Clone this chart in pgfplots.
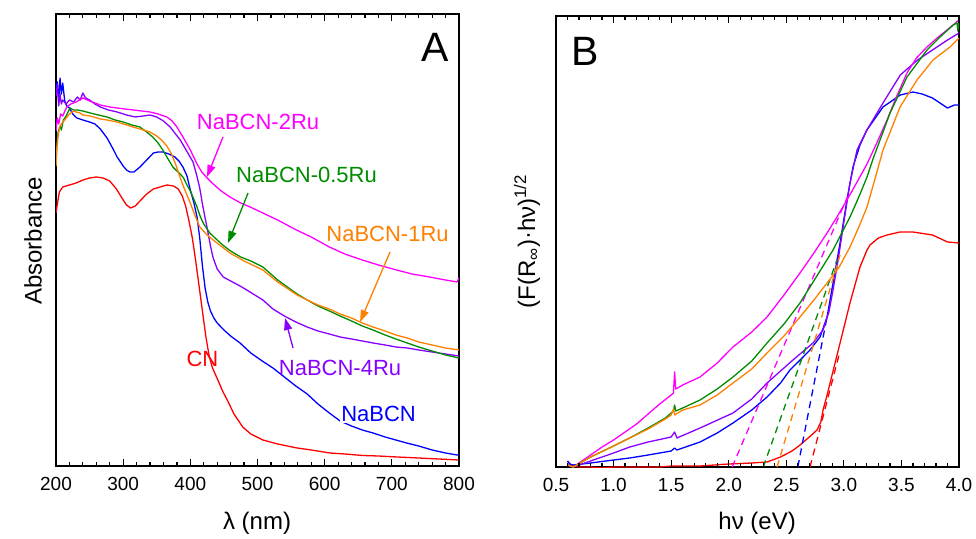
\documentclass[border=0pt]{standalone}
\usepackage{fontspec}
\setmainfont{Liberation Sans}
\usepackage{pgfplots}
\pgfplotsset{compat=1.18}
\usetikzlibrary{arrows.meta}
\definecolor{cRed}{RGB}{255,0,0}
\definecolor{cBlue}{RGB}{0,0,255}
\definecolor{cViolet}{RGB}{136,0,255}
\definecolor{cMag}{RGB}{255,0,255}
\definecolor{cGreen}{RGB}{0,140,0}
\definecolor{cOrange}{RGB}{255,128,0}
\tikzset{tk/.style={black, line width=1.2pt}}
\pgfplotsset{
  myaxis/.style={
    scale only axis, width=403pt,
    axis line style={line width=1.3pt},
    major tick style={line width=1.2pt, black},
    minor tick style={line width=1.2pt, black},
    major tick length=7pt, minor tick length=4.5pt,
    ytick=\empty,
    minor x tick num=4,
    ymin=0,
    /pgf/number format/assume math mode=true,
    tick label style={font=\fontsize{19}{22}\selectfont},
    xticklabel style={yshift=-8pt},
    label style={font=\fontsize{24}{28}\selectfont},
    every axis plot/.append style={line width=1.3pt, line join=round},
  },
  tang/.style={line width=1.3pt, dash pattern=on 7pt off 5pt},
}
\begin{document}
\begin{tikzpicture}
\useasboundingbox (0,0) rectangle (976pt,538pt);
%%%%%%%%%%%%%%%% Panel A
\begin{axis}[myaxis, at={(56pt,72pt)}, anchor=south west, height=452pt,
  xmin=200, xmax=800, ymax=452, xtick={200,300,...,800},
  xlabel={λ (nm)}, ylabel={Absorbance},
  xlabel style={at={(axis description cs:0.499,-0.126)}, anchor=center},
  ylabel style={at={(axis description cs:-0.057,0.498)}, anchor=center, rotate=0},
]
% CN
\addplot[cRed] coordinates {(200,253)(202,262)(205,274)(210,279)(220,281)(230,283)(240,286)(250,288)(260,289)(270,288)(280,285)(290,277)(300,266)(305,261)(311,258)(318,260)(325,265)(335,272)(345,277)(355,279)(365,281)(375,280)(382,277)(388,270)(393,260)(398,245)(403,228)(408,205)(413,180)(418,155)(423,130)(428,110)(433,98)(441,86)(448,75)(455,66)(465,52)(478,39)(490,32)(508,26)(530,22)(559,18)(580,16)(608,13)(630,12)(657,10.5)(680,10)(708,9)(740,8)(770,7)(800,6)};
% NaBCN
\addplot[cBlue] coordinates {(200,376)(202,384)(204,365)(206,388)(208,372)(210,383)(213,365)(216,360)(220,358)(225,352)(231,348)(240,346)(250,344)(258,342)(266,337)(276,328)(285,317)(291,309)(300,300)(305,296)(310,294)(316,294)(325,299)(335,306)(345,313)(352,314)(359,314)(368,312)(377,309)(383,305)(389,299)(395,290)(400,276)(405,264)(410,249)(414,228)(418,200)(422,178)(426,164)(430,155)(435,148)(440,143)(450,136)(460,130)(474,123)(490,113)(507,105)(523,98)(540,89)(557,80)(574,72)(590,62)(607,53)(623,45)(640,40)(656,36)(672,33)(690,29)(706,26)(722,23)(740,20)(760,16)(780,13)(797,11)(800,12)};
% NaBCN-4Ru
\addplot[cViolet] coordinates {(200,370)(202,382)(204,360)(206,372)(208,362)(210,366)(215,362)(220,366)(226,364)(232,369)(236,366)(240,373)(244,368)(250,366)(258,362)(266,359)(278,356)(291,354)(305,351)(318,349)(330,350)(340,351)(350,349)(360,345)(370,339)(378,332)(385,326)(392,318)(398,311)(404,304)(409,292)(414,278)(418,262)(422,248)(425,238)(430,220)(434,208)(440,197)(449,189)(460,185)(474,180)(484,176)(496,171)(508,166)(523,157)(540,150)(557,144)(574,139)(590,135)(607,132)(623,129)(640,127)(656,125)(672,123)(690,121)(706,119)(723,118)(740,116)(760,114)(780,112)(800,110)};
% NaBCN-2Ru
\addplot[cMag] coordinates {(200,335)(202,348)(204,342)(207,352)(210,350)(216,359)(222,362)(230,364)(240,368)(250,365)(266,361)(280,359)(291,358)(303,357)(315,356)(328,355)(340,354)(352,352)(365,349)(373,345)(380,339)(389,329)(395,322)(400,316)(405,309)(410,302)(417,294)(425,288)(434,282)(446,275)(459,269)(475,263)(489,259)(508,253)(530,246)(558,236)(580,229)(607,219)(630,212)(656,206)(680,201)(707,196)(730,192)(756,189)(780,186)(797,184)(800,188)};
% NaBCN-0.5Ru
\addplot[cGreen] coordinates {(200,300)(201,318)(203,333)(206,340)(208,336)(211,346)(215,350)(221,358)(226,356)(232,356)(240,355)(251,353)(263,351)(276,349)(288,346)(300,344)(313,341)(325,339)(335,334)(344,329)(352,323)(359,316)(366,308)(374,299)(380,295)(385,292)(390,288)(395,281)(400,275)(405,267)(410,259)(415,249)(420,242)(429,233)(440,226)(450,220)(460,215)(475,209)(490,205)(508,199)(530,186)(559,172)(574,166)(590,160)(607,155)(623,150)(640,145)(656,140)(672,136)(690,131)(706,127)(723,123)(740,119)(760,115)(780,111)(800,108)};
% NaBCN-1Ru
\addplot[cOrange] coordinates {(200,300)(201,315)(203,330)(206,340)(209,343)(213,346)(220,352)(226,355)(230,354)(236,353)(240,351)(251,350)(266,347)(276,346)(291,344)(300,342)(315,339)(330,336)(340,334)(350,330)(357,326)(365,320)(372,312)(378,302)(384,290)(390,279)(395,271)(400,263)(406,252)(414,239)(425,231)(434,226)(459,213)(480,205)(508,196)(530,184)(559,171)(574,166)(590,161)(607,157)(623,152)(640,148)(656,143)(672,139)(690,135)(706,131)(723,128)(740,124)(760,121)(780,118)(800,116)};
% annotations
\node[cMag, font=\fontsize{22}{26}\selectfont] at (axis cs:500.8,344) {NaBCN-2Ru};
\draw[cMag, line width=1.3pt, -{Triangle[length=12pt,width=8pt]}] (axis cs:448.6,329) -- (axis cs:424.8,289);
\node[cGreen, font=\fontsize{22}{26}\selectfont] at (axis cs:573,291) {NaBCN-0.5Ru};
\draw[cGreen, line width=1.3pt, -{Triangle[length=12pt,width=8pt]}] (axis cs:485.9,273) -- (axis cs:456.1,223);
\node[cOrange, font=\fontsize{22}{26}\selectfont] at (axis cs:693.6,232) {NaBCN-1Ru};
\draw[cOrange, line width=1.3pt, -{Triangle[length=12pt,width=8pt]}] (axis cs:697.3,214) -- (axis cs:652.7,144);
\node[cViolet, font=\fontsize{22}{26}\selectfont] at (axis cs:622.9,98) {NaBCN-4Ru};
\draw[cViolet, line width=1.3pt, -{Triangle[length=12pt,width=8pt]}] (axis cs:552.9,118) -- (axis cs:541,148);
\node[cBlue, fill=white, inner sep=1pt, font=\fontsize{22}{26}\selectfont] at (axis cs:680.2,52) {NaBCN};
\node[cRed, font=\fontsize{22}{26}\selectfont] at (axis cs:418,107) {CN};
\node[font=\fontsize{41}{48}\selectfont] at (rel axis cs:0.940,0.927) {A};
% tick marks
\pgfplotsinvokeforeach{200,300,400,500,600,700,800}{
  \draw[tk] (axis cs:#1,0) -- ++(0pt,7pt);
  \draw[tk] (axis cs:#1,452) -- ++(0pt,-7pt);
}
\pgfplotsinvokeforeach{220,240,260,280,320,340,360,380,420,440,460,480,520,540,560,580,620,640,660,680,720,740,760,780}{
  \draw[tk] (axis cs:#1,0) -- ++(0pt,4.5pt);
  \draw[tk] (axis cs:#1,452) -- ++(0pt,-4.5pt);
}
\end{axis}
%%%%%%%%%%%%%%%% Panel B
\begin{axis}[myaxis, at={(556pt,71pt)}, anchor=south west, height=451pt,
  xmin=0.5, xmax=4.0, ymax=451, xtick={0.5,1.0,...,4.0},
  xticklabel style={/pgf/number format/.cd, fixed, fixed zerofill, precision=1},
  xlabel={hν (eV)}, ylabel={(F(R\textsubscript{∞})·hν)\textsuperscript{1/2}},
  xlabel style={at={(axis description cs:0.499,-0.124)}, anchor=center},
  ylabel style={at={(axis description cs:-0.072,0.5)}, anchor=center},
]
% CN
\addplot[cRed] coordinates {(0.60,6)(0.62,3)(0.65,1)(0.70,0)(0.80,0)(0.90,-1)(1.00,0)(1.20,0)(1.40,0)(1.50,1)(1.60,1)(1.751,1)(2.00,3)(2.20,4)(2.333,5)(2.45,10)(2.55,16)(2.619,22)(2.70,30)(2.767,37)(2.80,45)(2.819,57)(2.85,70)(2.880,84)(2.967,124)(3.053,164)(3.140,200)(3.201,217)(3.227,222)(3.30,229)(3.375,232)(3.488,235)(3.60,235)(3.77,232)(3.90,225)(4.0,224)};
\addplot[cRed, tang] coordinates {(2.706,0)(2.96,113)};
% NaBCN
\addplot[cBlue] coordinates {(0.60,6)(0.62,3)(0.65,2)(0.80,4)(1.00,7)(1.14,9)(1.30,12)(1.50,16)(1.53,19)(1.55,17)(1.751,25)(1.90,34)(2.037,44)(2.20,57)(2.333,70)(2.45,84)(2.532,97)(2.62,107)(2.706,117)(2.793,130)(2.854,150)(2.906,184)(2.967,224)(3.027,267)(3.079,300)(3.14,322)(3.20,337)(3.34,360)(3.49,372)(3.60,375)(3.68,373)(3.77,369)(3.90,359)(3.96,362)(4.0,362)};
\addplot[cBlue, tang] coordinates {(2.60,0)(2.854,150)};
% NaBCN-4Ru
\addplot[cViolet] coordinates {(0.60,2)(0.65,0)(0.80,6)(1.00,14)(1.14,20)(1.30,25)(1.50,30)(1.53,35)(1.55,29)(1.751,39)(2.037,54)(2.20,68)(2.333,84)(2.45,96)(2.558,107)(2.65,116)(2.732,124)(2.819,137)(2.87,155)(2.906,177)(2.95,207)(3.00,245)(3.05,282)(3.114,317)(3.20,337)(3.34,364)(3.49,392)(3.64,407)(3.77,417)(3.90,427)(4.0,434)};
% NaBCN-2Ru
\addplot[cMag] coordinates {(0.60,3)(0.62,1)(0.65,0)(0.70,4)(0.80,12)(0.90,20)(1.00,27)(1.10,35)(1.20,43)(1.30,53)(1.40,63)(1.50,72)(1.52,74)(1.53,95)(1.54,78)(1.60,82)(1.751,90)(1.90,104)(2.037,120)(2.20,135)(2.333,150)(2.48,172)(2.619,194)(2.74,214)(2.854,234)(2.94,250)(3.027,267)(3.11,284)(3.201,303)(3.29,325)(3.375,347)(3.46,371)(3.548,394)(3.63,409)(3.722,420)(3.81,429)(3.896,437)(4.0,447)};
\addplot[cMag, tang] coordinates {(2.03,0)(3.03,270)};
% NaBCN-0.5Ru
\addplot[cGreen] coordinates {(0.60,2)(0.65,0)(0.80,10)(1.00,21)(1.14,29)(1.30,39)(1.45,49)(1.52,56)(1.53,62)(1.54,56)(1.60,59)(1.751,67)(1.90,78)(2.037,90)(2.20,106)(2.333,124)(2.48,143)(2.619,164)(2.76,190)(2.906,217)(3.053,250)(3.13,270)(3.201,290)(3.253,308)(3.401,354)(3.548,390)(3.722,417)(3.835,430)(3.95,442)(3.983,444)(3.99,436)(4.0,446)};
\addplot[cGreen, tang] coordinates {(2.30,0)(2.94,207)};
% NaBCN-1Ru
\addplot[cOrange] coordinates {(0.60,2)(0.65,0)(0.80,10)(1.00,21)(1.14,29)(1.30,38)(1.45,48)(1.50,52)(1.52,58)(1.53,52)(1.60,57)(1.751,62)(1.90,72)(2.037,84)(2.20,98)(2.333,114)(2.48,131)(2.619,150)(2.74,167)(2.854,184)(2.96,200)(3.053,220)(3.13,240)(3.201,260)(3.27,288)(3.340,317)(3.488,360)(3.635,387)(3.774,407)(3.922,420)(4.0,429)};
\addplot[cOrange, tang] coordinates {(2.42,0)(2.967,212)};
\node[font=\fontsize{41}{48}\selectfont] at (rel axis cs:0.072,0.922) {B};
% tick marks
\pgfplotsinvokeforeach{0.5,1.0,1.5,2.0,2.5,3.0,3.5,4.0}{
  \draw[tk] (axis cs:#1,0) -- ++(0pt,7pt);
  \draw[tk] (axis cs:#1,451) -- ++(0pt,-7pt);
}
\pgfplotsinvokeforeach{0.6,0.7,0.8,0.9,1.1,1.2,1.3,1.4,1.6,1.7,1.8,1.9,2.1,2.2,2.3,2.4,2.6,2.7,2.8,2.9,3.1,3.2,3.3,3.4,3.6,3.7,3.8,3.9}{
  \draw[tk] (axis cs:#1,0) -- ++(0pt,4.5pt);
  \draw[tk] (axis cs:#1,451) -- ++(0pt,-4.5pt);
}
\end{axis}
\end{tikzpicture}
\end{document}
